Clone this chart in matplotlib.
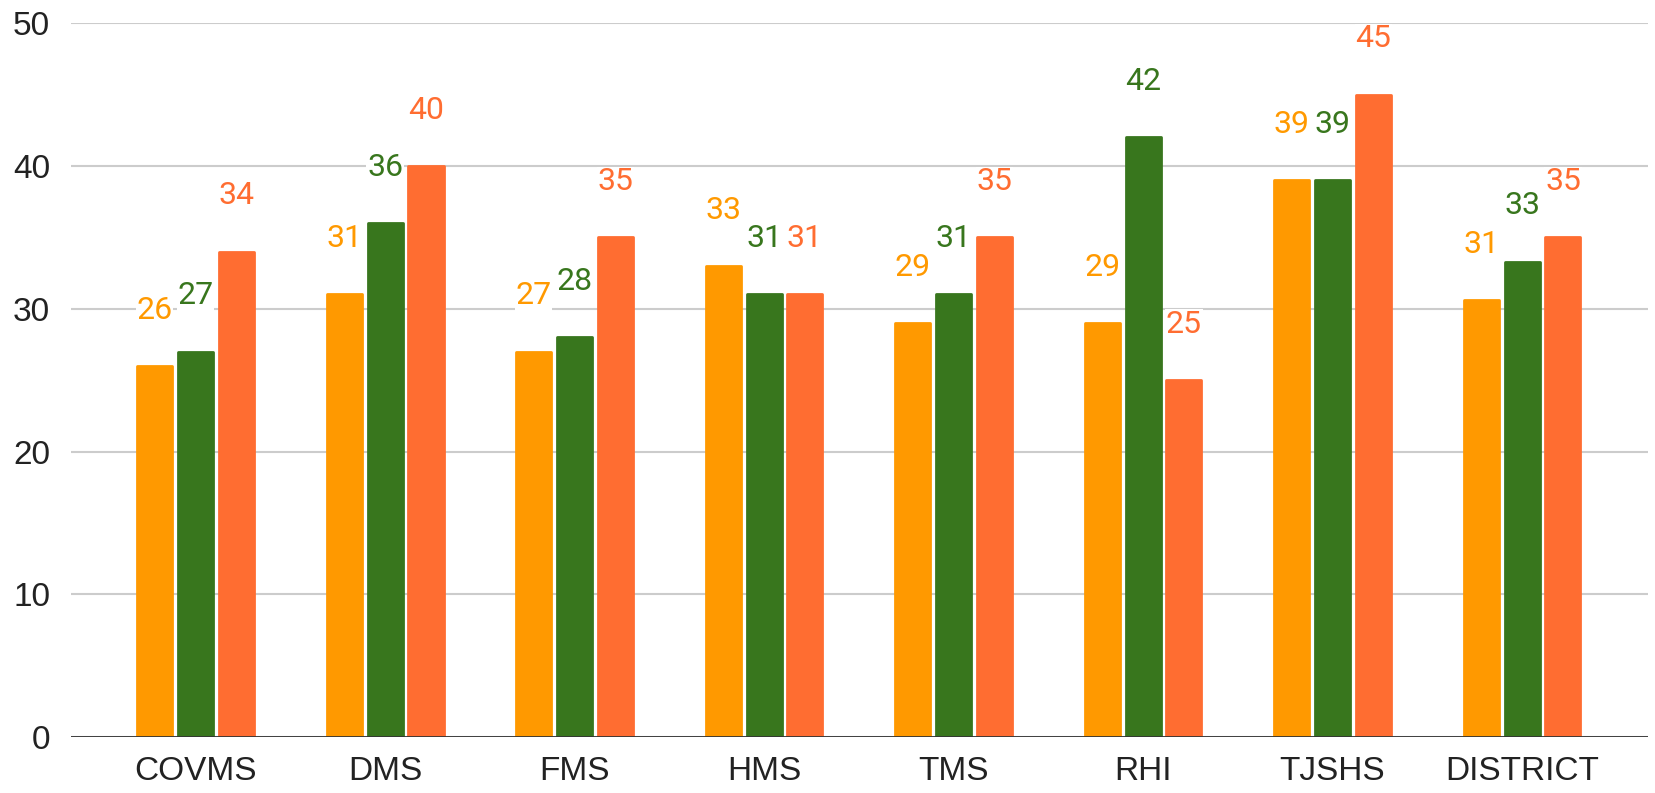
import numpy as np
import matplotlib.pyplot as plt

schools = ['COVMS', 'DMS', 'FMS', 'HMS', 'TMS', 'RHI', 'TJSHS', 'DISTRICT']
series_a = [26, 31, 27, 33, 29, 29, 39, 30.6]
series_b = [27, 36, 28, 31, 31, 42, 39, 33.3]
series_c = [34, 40, 35, 31, 35, 25, 45, 35]
colors = ['#ff9900', '#38761d', '#ff6d31']

fig = plt.figure(figsize=(16.56, 7.93), dpi=100)
ax = fig.add_axes([0.0429, 0.0706, 0.9523, 0.9001])

x = np.arange(len(schools))
width = 0.185
step = 0.216

for k, vals in enumerate([series_a, series_b, series_c]):
    xs = x + (k - 1) * step
    ax.bar(xs, vals, width, color=colors[k], edgecolor=colors[k],
           linewidth=2, joinstyle='round', zorder=3)
    for i, v in enumerate(vals):
        ax.text(xs[i], v + 3.9, '{:.0f}'.format(v), color=colors[k], ha='center',
                va='center', fontsize=23, family='Roboto', zorder=4,
                bbox=dict(facecolor='white', edgecolor='none', pad=0.5))

ax.set_ylim(0, 50)
ax.set_xlim(-0.657, 7.665)
ax.set_yticks([0, 10, 20, 30, 40, 50])
ax.set_xticks(x)
ax.set_xticklabels(schools)
ax.grid(axis='y', color='#cccccc', linewidth=1.5, zorder=0)
ax.axhline(0, color='#333333', linewidth=2, zorder=5)
for s in ax.spines.values():
    s.set_visible(False)
ax.tick_params(axis='both', length=0, labelsize=24, colors='#222222')
ax.tick_params(axis='x', pad=14)
ax.tick_params(axis='y', pad=15)
for t in ax.get_xticklabels() + ax.get_yticklabels():
    t.set_family('Liberation Sans')

plt.savefig('out.png', dpi=100)
